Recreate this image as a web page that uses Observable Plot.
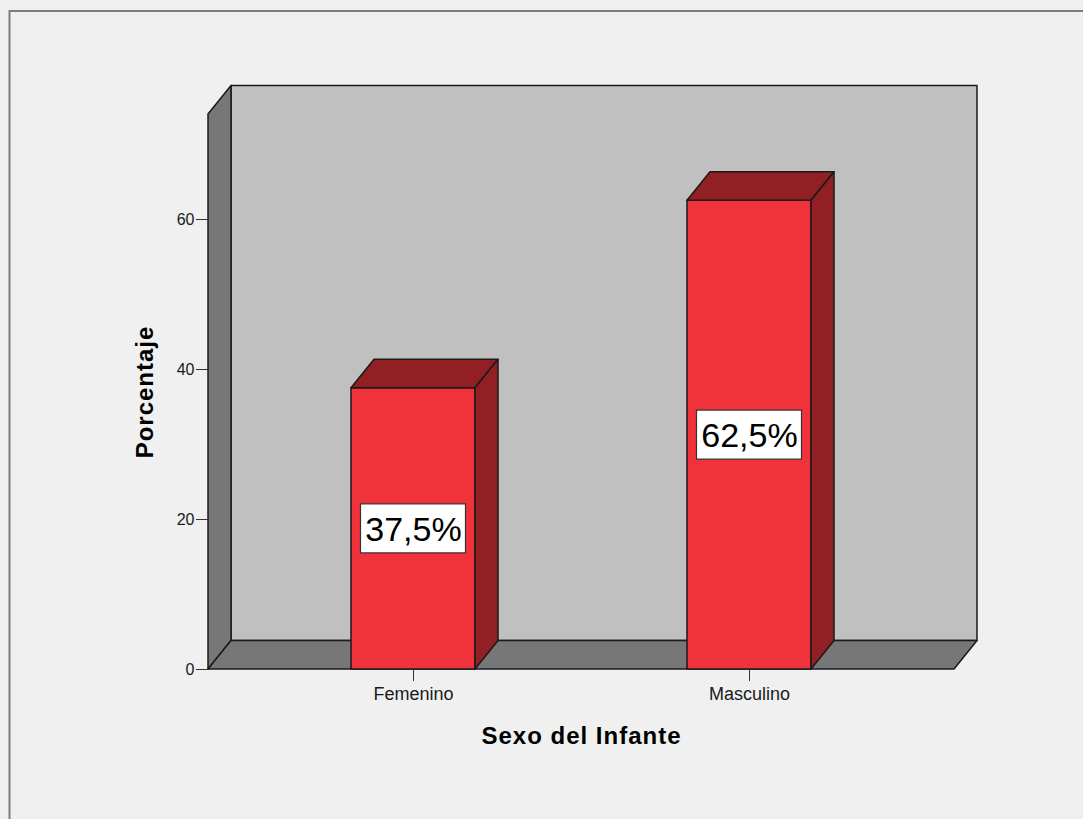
<!DOCTYPE html>
<html>
<head>
<meta charset="utf-8">
<script src="https://cdn.jsdelivr.net/npm/d3@7"></script>
<script src="https://cdn.jsdelivr.net/npm/@observablehq/plot@0.6"></script>
<style>
  html, body { margin: 0; padding: 0; background: #f0f0f0; overflow: hidden; }
  #chart svg { display: block; }
</style>
</head>
<body>
<div id="chart"></div>
<script>
// ---- data ----
const categories = ["Femenino", "Masculino"];
const percentages = [37.5, 62.5];
const valueLabels = ["37,5%", "62,5%"];
const yTicks = [0, 20, 40, 60];
const yMax = 74;
const xTitle = "Sexo del Infante";
const yTitle = "Porcentaje";

const data = categories.map((c, i) => ({sexo: c, pct: percentages[i], label: valueLabels[i]}));

// ---- style ----
const FRONT = "#f0323a";
const DARK = "#921f23";
const BACKWALL = "#c0c0c0";
const SIDEWALL = "#777777";
const EDGE = "#1a1a1a";
const DX = 23, DY = 28.5;

const pathOf = pts => "M" + pts.map(p => p[0] + "," + p[1]).join("L") + "Z";

function addPoly(g, pts, fill) {
  g.append("path")
    .attr("d", pathOf(pts))
    .attr("fill", fill)
    .attr("stroke", EDGE)
    .attr("stroke-width", 1.5)
    .attr("stroke-linejoin", "round");
}

// outer frame + 3D walls (back wall, left wall, floor)
const walls = (index, scales, values, dims) => {
  const {y} = scales;
  const g = d3.create("svg:g");
  g.append("path")
    .attr("d", `M9.5,${dims.height}V11H${dims.width}`)
    .attr("fill", "none").attr("stroke", "#7c7c7c").attr("stroke-width", 2);
  const x0 = dims.marginLeft, x1 = dims.width - dims.marginRight;
  const y0 = y(0), yT = y(yMax);
  addPoly(g, [[x0 + DX, yT - DY], [x1 + DX, yT - DY], [x1 + DX, y0 - DY], [x0 + DX, y0 - DY]], BACKWALL);
  addPoly(g, [[x0, y0], [x0, yT], [x0 + DX, yT - DY], [x0 + DX, y0 - DY]], SIDEWALL);
  addPoly(g, [[x0, y0], [x0 + DX, y0 - DY], [x1 + DX, y0 - DY], [x1, y0]], SIDEWALL);
  return g.node();
};

// 3D top and side faces of the bars
const barFaces = (index, scales) => {
  const {x, y} = scales;
  const bw = x.bandwidth();
  const y0 = y(0);
  const g = d3.create("svg:g");
  for (const d of data) {
    const bx = x(d.sexo), top = y(d.pct);
    addPoly(g, [[bx, top], [bx + DX, top - DY], [bx + bw + DX, top - DY], [bx + bw, top]], DARK);
    addPoly(g, [[bx + bw, top], [bx + bw + DX, top - DY], [bx + bw + DX, y0 - DY], [bx + bw, y0]], DARK);
  }
  return g.node();
};

// white boxes behind value labels
const labelBoxes = (index, scales) => {
  const {x, y} = scales;
  const bw = x.bandwidth();
  const g = d3.create("svg:g");
  for (const d of data) {
    const cx = x(d.sexo) + bw / 2, cy = y(d.pct / 2);
    g.append("rect")
      .attr("x", cx - 52.5).attr("y", cy - 24.5)
      .attr("width", 105).attr("height", 49)
      .attr("fill", "#ffffff").attr("stroke", "#333").attr("stroke-width", 1.2);
  }
  return g.node();
};

const chart = Plot.plot({
  width: 1083,
  height: 819,
  marginLeft: 208,
  marginRight: 129,
  marginTop: 114,
  marginBottom: 150,
  style: {background: "#f0f0f0", fontFamily: "'Liberation Sans', Arial, sans-serif", color: "#1a1a1a"},
  x: {domain: categories, paddingInner: 0.631, paddingOuter: 0.4256},
  y: {domain: [0, yMax]},
  marks: [
    walls,
    Plot.barY(data, {x: "sexo", y: "pct", fill: FRONT, stroke: EDGE, strokeWidth: 1.5}),
    barFaces,
    labelBoxes,
    Plot.text(data, {x: "sexo", y: d => d.pct / 2, text: "label", fontSize: 34, fill: "#000", dy: 1}),
    Plot.axisY(yTicks, {tickSize: 12, tickPadding: 2, fontSize: 16, label: null, stroke: "#333"}),
    Plot.axisX({tickSize: 12, tickPadding: 6, fontSize: 18, label: null, stroke: "#333"}),
    Plot.text([yTitle], {frameAnchor: "left", dx: -63, rotate: -90, textAnchor: "middle", lineAnchor: "middle", fontSize: 24, fontWeight: "bold", fill: "#000"}),
    Plot.text([xTitle], {frameAnchor: "bottom", dy: 67, textAnchor: "middle", lineAnchor: "middle", fontSize: 24, fontWeight: "bold", fill: "#000"})
  ]
});

d3.select(chart).selectAll("text")
  .filter(function() { return this.textContent === xTitle || this.textContent === yTitle; })
  .style("letter-spacing", "1px");

document.getElementById("chart").appendChild(chart);
</script>
</body>
</html>
